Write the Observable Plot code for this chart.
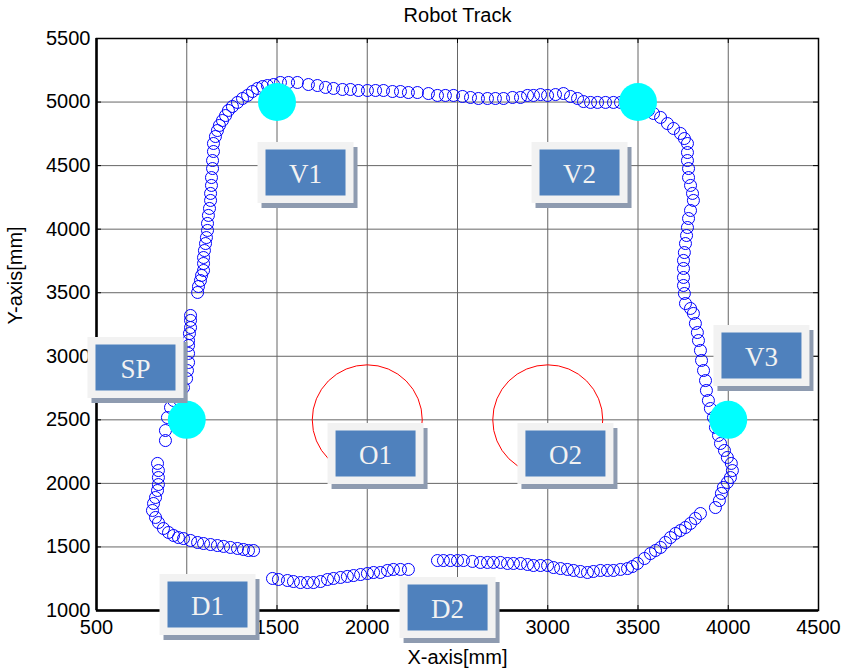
<!DOCTYPE html>
<html><head><meta charset="utf-8">
<script src="https://cdn.jsdelivr.net/npm/d3@7"></script>
<script src="https://cdn.jsdelivr.net/npm/@observablehq/plot@0.6"></script>
<style>body{margin:0;background:#fff}</style>
</head><body><div id="chart"></div>
<script>
const xTicks = [500, 1000, 1500, 2000, 2500, 3000, 3500, 4000, 4500];
const yTicks = [1000, 1500, 2000, 2500, 3000, 3500, 4000, 4500, 5000, 5500];

// measured robot positions [x mm, y mm]
const trackPoints = [
  [882,2337],[882,2416],[893,2518],[910,2597],[927,2652],[954,2707],[982,2754],[999,2825],[1004,2888],[1010,2951],[1010,3022],[1010,3085],[1010,3124],[1015,3179],[1021,3226],[1021,3282],[1021,3321],
  [1060,3502],[1065,3549],[1076,3596],[1082,3636],[1093,3675],[1093,3730],[1093,3777],[1098,3832],[1104,3887],[1109,3934],[1115,3990],[1115,4045],[1120,4108],[1126,4163],[1132,4226],[1132,4281],[1137,4344],[1137,4406],[1143,4477],[1143,4540],[1148,4611],[1148,4674],[1159,4729],[1170,4776],[1181,4816],[1198,4855],[1215,4894],[1231,4934],[1253,4965],[1281,4997],[1309,5028],[1337,5052],[1364,5083],[1392,5107],[1420,5122],[1447,5130],[1481,5138],[1519,5154],[1564,5154],[1613,5154],[1674,5138],[1724,5130],[1769,5115],[1813,5107],[1863,5099],[1907,5099],[1951,5091],[2001,5091],[2046,5091],[2090,5091],[2140,5083],[2184,5083],[2228,5075],[2278,5075],[2339,5067],[2389,5052],[2433,5052],[2478,5052],[2528,5044],[2572,5036],[2616,5028],[2666,5028],[2710,5028],[2755,5028],[2805,5036],[2849,5036],[2888,5052],[2921,5052],[2960,5059],[2999,5052],[3043,5059],[3087,5067],[3126,5044],[3165,5028],[3198,5004],[3237,4997],[3276,4997],[3320,4997],[3364,4997],[3403,4997],[3442,4997],
  [3558,4934],[3586,4910],[3625,4879],[3663,4831],[3697,4792],[3735,4753],[3757,4713],[3774,4674],[3774,4603],[3774,4540],[3780,4477],[3780,4406],[3791,4344],[3802,4281],[3807,4226],[3791,4147],[3780,4084],[3774,4013],[3769,3950],[3763,3887],[3757,3816],[3752,3754],[3752,3691],[3752,3620],[3752,3557],[3757,3494],[3763,3415],[3791,3376],[3807,3337],[3818,3258],[3829,3187],[3835,3124],[3846,3046],[3852,2967],[3863,2888],[3874,2809],[3879,2731],[3890,2652],[3901,2589],[3918,2518],[3929,2440],[3946,2377],[3957,2314],[3979,2259],[3995,2204],[4017,2157],[4023,2101],[4012,2046],[3995,2007],[3973,1968],[3962,1921],[3951,1865],[3929,1810],
  [3846,1763],[3818,1724],[3791,1685],[3763,1653],[3735,1629],[3708,1606],[3680,1574],[3652,1535],[3625,1496],[3597,1472],[3569,1448],[3536,1409],[3497,1370],[3469,1346],[3442,1330],[3403,1323],[3364,1315],[3331,1315],[3292,1315],[3253,1307],[3220,1299],[3181,1307],[3143,1315],[3109,1323],[3071,1330],[3032,1338],[2999,1354],[2960,1354],[2921,1354],[2888,1362],[2849,1370],[2810,1370],[2777,1370],[2738,1378],[2699,1378],[2666,1378],[2627,1378],[2583,1386],[2533,1393],[2500,1393],[2461,1393],[2422,1393],[2389,1393],
  [1475,1252],[1508,1244],[1558,1236],[1591,1228],[1630,1220],[1669,1220],[1702,1220],[1741,1228],[1780,1244],[1813,1252],[1852,1260],[1890,1268],[1924,1275],[1963,1283],[2001,1291],[2035,1299],[2073,1299],[2112,1315],[2145,1323],[2184,1323],[2228,1323],
  [838,2157],[843,2101],[843,2046],[843,1991],[838,1944],[827,1889],[816,1842],[810,1787],[827,1732],[843,1692],[871,1645],[899,1614],[927,1590],[954,1574],[982,1566],[1021,1551],[1060,1535],[1093,1527],[1132,1519],[1170,1511],[1204,1504],[1242,1496],[1281,1488],[1314,1480],[1342,1472],[1370,1472]
];

const viaX = [1500, 3500, 1000, 4000];
const viaY = [5000, 5000, 2500, 2500];

const obstacleX = [2000, 3000];
const obstacleY = [2500, 2500];

const labelText = ["V1", "V2", "SP", "V3", "O1", "O2", "D1", "D2"];
const labelX = [1658, 3176, 716, 4184, 2046, 3098, 1115, 2445];
const labelY = [4446, 4446, 2912, 3006, 2235, 2235, 1047, 1024];

const labels = labelText.map((t, i) => ({t, x: labelX[i], y: labelY[i]}));
const vias = viaX.map((x, i) => ({x, y: viaY[i]}));
const obstacles = obstacleX.map((x, i) => ({x, y: obstacleY[i]}));

const boxSymbol = (w, h) => ({draw(ctx) { ctx.rect(-w / 2, -h / 2, w, h); }});

const W = 845, H = 672;
const mL = 96, mR = 27, mT = 38, mB = 62;
const plotW = W - mL - mR, plotH = H - mT - mB;
const tick = 5;

const chart = Plot.plot({
  width: W, height: H,
  marginLeft: mL, marginRight: mR, marginTop: mT, marginBottom: mB,
  style: {fontFamily: "'Liberation Sans', Arial, sans-serif", fontSize: "20px", background: "white", color: "black"},
  x: {domain: [500, 4500], axis: null},
  y: {domain: [1000, 5500], axis: null},
  marks: [
    Plot.gridX(xTicks, {stroke: "#666", strokeOpacity: 1, strokeWidth: 1}),
    Plot.gridY(yTicks, {stroke: "#666", strokeOpacity: 1, strokeWidth: 1}),
    Plot.tickX(xTicks, {x: d => d, insetTop: plotH - tick, stroke: "black"}),
    Plot.tickX(xTicks, {x: d => d, insetBottom: plotH - tick, stroke: "black"}),
    Plot.tickY(yTicks, {y: d => d, insetRight: plotW - tick, stroke: "black"}),
    Plot.tickY(yTicks, {y: d => d, insetLeft: plotW - tick, stroke: "black"}),
    Plot.frame({stroke: "black", strokeWidth: 1.5}),
    Plot.ruleX([500], {stroke: "black", strokeWidth: 2.5}),
    Plot.ruleY([1000], {stroke: "black", strokeWidth: 2.5}),
    Plot.axisX({ticks: xTicks, tickSize: 0, tickPadding: 9, fontSize: 20, tickFormat: d => String(d), label: null}),
    Plot.axisY({ticks: yTicks, tickSize: 0, tickPadding: 6, fontSize: 20, tickFormat: d => String(d), label: null}),
    Plot.text(["Robot Track"], {frameAnchor: "top", lineAnchor: "middle", dy: -23, fontSize: 20}),
    Plot.text(["X-axis[mm]"], {frameAnchor: "bottom", lineAnchor: "middle", dy: 47, fontSize: 20}),
    Plot.text(["Y-axis[mm]"], {frameAnchor: "left", dx: -81, rotate: -90, fontSize: 20}),
    Plot.dot(obstacles, {x: "x", y: "y", r: 55, stroke: "red", strokeWidth: 1, fill: "none"}),
    Plot.dot(trackPoints, {x: d => d[0], y: d => d[1], r: 6, stroke: "#0000ff", strokeWidth: 1, fill: "none"}),
    Plot.dot(vias, {x: "x", y: "y", r: 19, fill: "#00ffff", stroke: "none"}),
    Plot.dot(labels, {x: "x", y: "y", symbol: boxSymbol(96, 61), dx: 4, dy: 5, fill: "#8e9bb0", stroke: "none"}),
    Plot.dot(labels, {x: "x", y: "y", symbol: boxSymbol(96, 61), fill: "#f2f2f2", stroke: "none"}),
    Plot.dot(labels, {x: "x", y: "y", symbol: boxSymbol(80, 46), fill: "#4f81bd", stroke: "none"}),
    Plot.text(labels, {x: "x", y: "y", text: "t", dy: 2, fill: "#f2f2f2", fontSize: 27, fontFamily: "'Liberation Serif', 'Times New Roman', serif"})
  ]
});
document.getElementById("chart").appendChild(chart);
</script>
</body></html>
